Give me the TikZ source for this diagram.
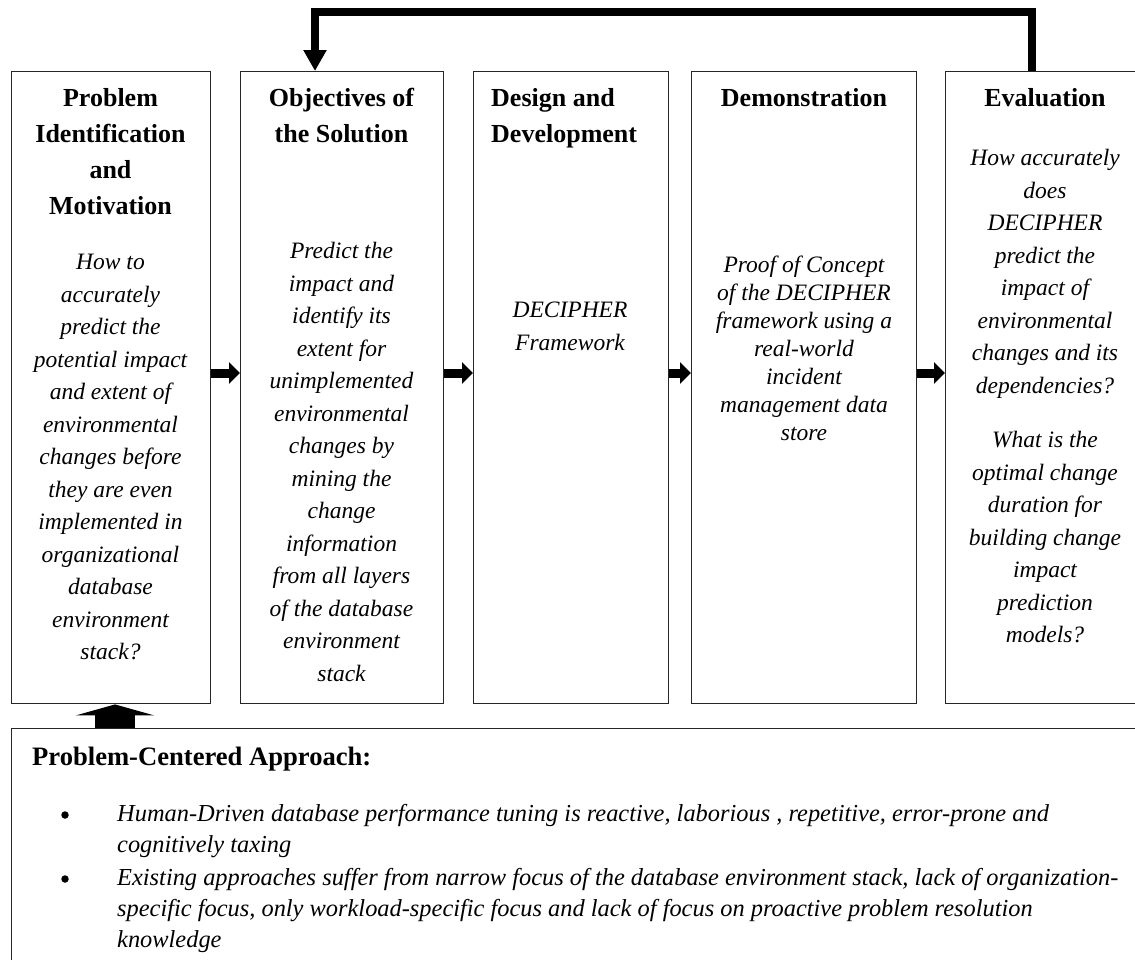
\documentclass[tikz,border=0pt]{standalone}
\usepackage{fontspec}
\setmainfont{Liberation Serif}
\usetikzlibrary{arrows.meta}

\begin{document}
\begin{tikzpicture}[x=1pt,y=-1pt,
  stage/.style={draw=black!85, line width=1.4pt, anchor=north west, inner sep=0pt},
  ttl/.style={anchor=north, align=center, inner sep=0pt,
    font=\fontsize{26}{36}\selectfont\bfseries},
  body/.style={anchor=north, align=center, inner sep=0pt,
    font=\fontsize{23.5}{32.5}\selectfont\itshape},
  flow/.style={line width=9pt, -{Triangle[width=21pt,length=11pt]}},
  back/.style={line width=8pt, -{Triangle[width=22pt,length=21pt]}},
  lift/.style={line width=40pt, -{Triangle[width=78pt,length=11pt]}},
  dot/.style={circle, fill=black, inner sep=0pt, minimum size=7.5pt},
  bul/.style={anchor=north west, align=left, inner sep=0pt,
    font=\fontsize{24.4}{31}\selectfont\itshape}]

\fill[white] (0,0) rectangle (1135,959);
\useasboundingbox (0,0) rectangle (1135,959);
\clip (0,0) rectangle (1135,959);

% the five stages of the process
\node[stage, minimum width=199pt, minimum height=632pt] (b1) at (11,71) {};
\node[stage, minimum width=203pt, minimum height=632pt] (b2) at (240,71) {};
\node[stage, minimum width=195pt, minimum height=632pt] (b3) at (473,71) {};
\node[stage, minimum width=225pt, minimum height=632pt] (b4) at (691,71) {};
\node[stage, minimum width=205pt, minimum height=632pt] (b5) at (945,71) {};

% headings
\node[ttl] (h1) at (110.5,88) {Problem\\Identification\\and\\Motivation};
\node[ttl] (h2) at (341.5,88) {Objectives of\\the Solution};
\node[ttl, anchor=north west, align=left] (h3) at (491,88) {Design and\\Development};
\node[ttl] (h4) at (804,88) {Demonstration};
\node[ttl] (h5) at (1045,88) {Evaluation};

% stage contents
\node[body] (c1) at (110.5,254) {How to\\accurately\\predict the\\potential impact\\and extent of\\environmental\\changes before\\they are even\\implemented in\\organizational\\database\\environment\\stack?};
\node[body] (c2) at (341.5,242) {Predict the\\impact and\\identify its\\extent for\\unimplemented\\environmental\\changes by\\mining the\\change\\information\\from all layers\\of the database\\environment\\stack};
\node[body] (c3) at (570,302) {DECIPHER\\Framework};
\node[body, font=\fontsize{23.5}{28}\selectfont\itshape] (c4) at (804,256) {Proof of Concept\\of the DECIPHER\\framework using a\\real-world\\incident\\management data\\store};
\node[body] (c5) at (1045,149) {How accurately\\does\\DECIPHER\\predict the\\impact of\\environmental\\changes and its\\dependencies?\\[22pt]What is the\\optimal change\\duration for\\building change\\impact\\prediction\\models?};

% problem-centered approach panel
\node[stage, minimum width=1200pt, minimum height=300pt] (pca) at (11,728) {};
\node[anchor=north west, inner sep=0pt, font=\fontsize{26.6}{30}\selectfont\bfseries] (pt) at (32,747) {Problem-Centered Approach:};
\node[dot] (d1) at (65,815) {};
\node[bul] (p1) at (117,804) {Human-Driven database performance tuning is reactive, laborious , repetitive, error-prone and\\cognitively taxing};
\node[dot] (d2) at (65,879) {};
\node[bul] (p2) at (117,868) {Existing approaches suffer from narrow focus of the database environment stack, lack of organization-\\specific focus, only workload-specific focus and lack of focus on proactive problem resolution\\knowledge};

% connectors
\coordinate (row) at (0,373);
\draw[flow] (b1.east |- row) -- (b2.west |- row);
\draw[flow] (b2.east |- row) -- (b3.west |- row);
\draw[flow] (b3.east |- row) -- (b4.west |- row);
\draw[flow] (b4.east |- row) -- (b5.west |- row);

\coordinate (fr) at (1032,0);
\coordinate (fl) at (315,0);
\draw[back] (b5.north -| fr) -- ++(0,-59) -| (b2.north -| fl);

\coordinate (up) at (115,0);
\draw[lift] (pca.north -| up) -- (b1.south -| up);
\end{tikzpicture}
\end{document}
